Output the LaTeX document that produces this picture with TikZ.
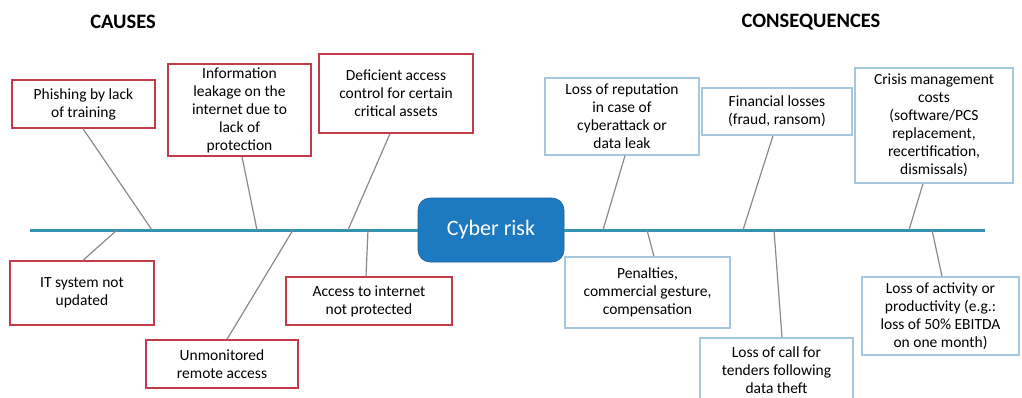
\documentclass[tikz,border=0pt]{standalone}
\usepackage{fontspec}
\setmainfont{Carlito}
\usetikzlibrary{calc}
\definecolor{spineblue}{RGB}{52,146,178}
\definecolor{riskblue}{RGB}{30,122,192}
\definecolor{causered}{RGB}{196,58,72}
\definecolor{conseqblue}{RGB}{166,200,222}
\definecolor{bonegray}{RGB}{138,138,138}
\tikzset{
  causebox/.style={draw=causered, line width=1.3pt, fill=white, align=center,
    inner sep=0pt, font=\fontsize{15.5}{18}\selectfont},
  conseqbox/.style={causebox, draw=conseqblue},
  bone/.style={draw=bonegray, line width=1.2pt},
  headline/.style={font=\fontsize{20.5}{24}\selectfont\bfseries},
}

\begin{document}
\begin{tikzpicture}[x=1pt,y=-1pt]
  \useasboundingbox (0,0) rectangle (1022,397);
  \node[headline] (causes) at (123,22) {CAUSES};
  \node[headline] (conseq) at (811,22) {CONSEQUENCES};

  % head of the fish
  \node[fill=riskblue, draw=riskblue!80!black, line width=0.6pt, rounded corners=12pt,
    minimum width=146, minimum height=64, text=white,
    font=\fontsize{22}{26}\selectfont] (risk) at (491,230) {Cyber risk};
  \coordinate (tail) at (30,230);
  \coordinate (head) at (985,230);
  \draw[spineblue, line width=3pt] (tail) -- (risk.west);
  \draw[spineblue, line width=3pt] (risk.east) -- (head);

  % causes
  \node[causebox, minimum width=143, minimum height=48] (phish) at (83.5,104) {Phishing by lack\\of training};
  \node[causebox, minimum width=143, minimum height=92] (leak) at (239.5,110) {Information\\leakage on the\\internet due to\\lack of\\protection};
  \node[causebox, minimum width=154, minimum height=79] (control) at (396,93.5) {Deficient access\\control for certain\\critical assets};
  \node[causebox, minimum width=144, minimum height=64] (update) at (82,293) {IT system not\\updated};
  \node[causebox, minimum width=152, minimum height=48] (remote) at (222,364) {Unmonitored\\remote access};
  \node[causebox, minimum width=166, minimum height=48] (web) at (369,301) {Access to internet\\not protected};

  % consequences
  \node[conseqbox, minimum width=154, minimum height=77] (image) at (622,116.5) {Loss of reputation\\in case of\\cyberattack or\\data leak};
  \node[conseqbox, minimum width=150, minimum height=47] (money) at (777,111.5) {Financial losses\\(fraud, ransom)};
  \node[conseqbox, minimum width=158, minimum height=115] (crisis) at (934,125.5) {Crisis management\\costs\\(software/PCS\\replacement,\\recertification,\\dismissals)};
  \node[conseqbox, minimum width=165, minimum height=71] (fines) at (647.5,292.5) {Penalties,\\commercial gesture,\\compensation};
  \node[conseqbox, minimum width=153, minimum height=64] (tender) at (776.5,370) {Loss of call for\\tenders following\\data theft};
  \node[conseqbox, minimum width=157, minimum height=78] (activity) at (940.5,316) {Loss of activity or\\productivity (e.g.:\\loss of 50\% EBITDA\\on one month)};

  % bones
  \coordinate (b1) at (152,230);
  \coordinate (b2) at (257,230);
  \coordinate (b3) at (348,230);
  \coordinate (b4) at (117,230);
  \coordinate (b5) at (293,230);
  \coordinate (b6) at (368,230);
  \coordinate (b7) at (603,230);
  \coordinate (b8) at (743,230);
  \coordinate (b9) at (909,230);
  \coordinate (b10) at (647,230);
  \coordinate (b11) at (774,230);
  \coordinate (b12) at (932,230);
  \draw[bone] ([xshift=-0.5]phish.south) -- (b1);
  \draw[bone] ([xshift=2.5]leak.south) -- (b2);
  \draw[bone] ([xshift=-6]control.south) -- (b3);
  \draw[bone] ([xshift=1]update.north) -- (b4);
  \draw[bone] ([xshift=5]remote.north) -- (b5);
  \draw[bone] ([xshift=-3]web.north) -- (b6);
  \draw[bone] ([xshift=3]image.south) -- (b7);
  \draw[bone] ([xshift=-4]money.south) -- (b8);
  \draw[bone] ([xshift=-11]crisis.south) -- (b9);
  \draw[bone] ([xshift=6.5]fines.north) -- (b10);
  \draw[bone] ([xshift=5.5]tender.north) -- (b11);
  \draw[bone] ([xshift=1.5]activity.north) -- (b12);
\end{tikzpicture}
\end{document}
